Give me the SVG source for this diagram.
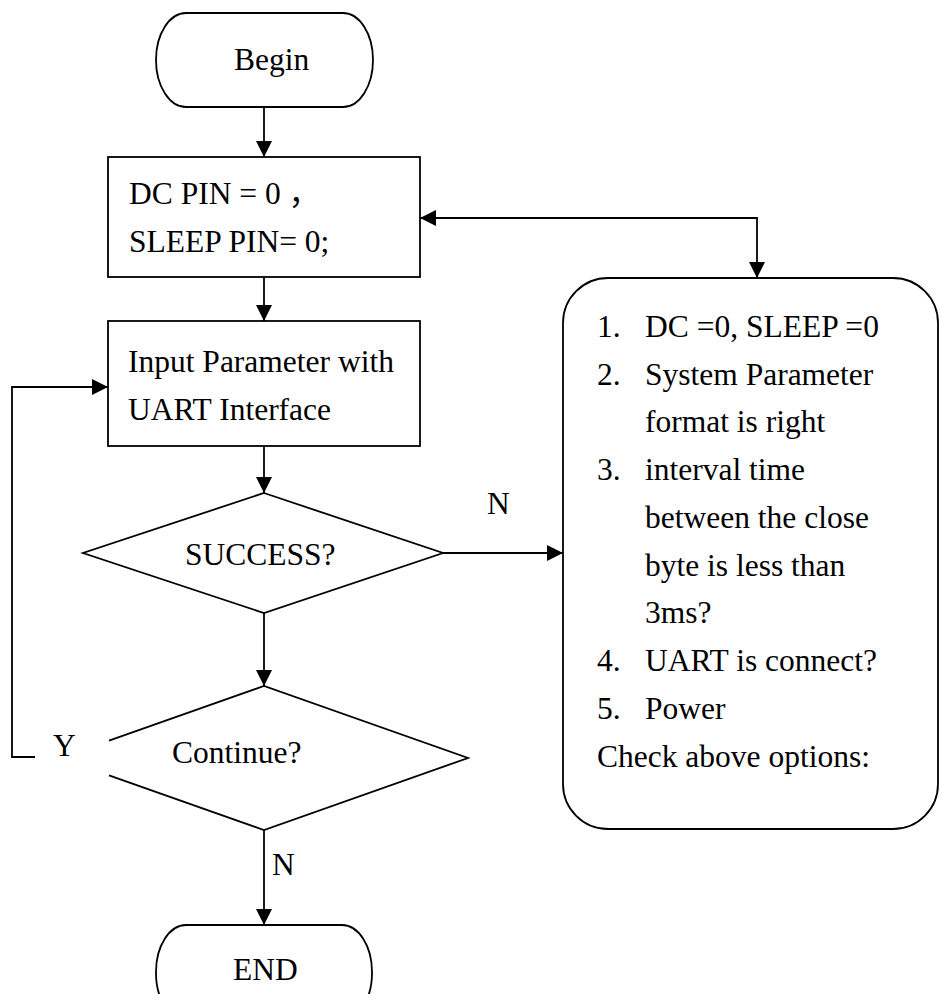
<svg xmlns="http://www.w3.org/2000/svg" width="939" height="994" viewBox="0 0 939 994">
<style>
.s{fill:#fff;stroke:#000;stroke-width:1.8}
.c{fill:none;stroke:#000;stroke-width:1.8}
text{font-family:"Liberation Serif","Times New Roman","Noto Sans CJK SC",serif;font-size:31.5px;fill:#000}
</style>
<defs>
<marker id="ah" markerUnits="userSpaceOnUse" markerWidth="16" markerHeight="16" refX="15" refY="7.5" orient="auto-start-reverse" viewBox="0 0 15 15">
<path d="M0,0 L15,7.5 L0,15 z" fill="#000"/>
</marker>
</defs>
<rect width="939" height="994" fill="#fff"/>
<g id="begin">
<rect class="s" x="156" y="13" width="217" height="94" rx="30" ry="47"/>
<text x="234" y="70">Begin</text>
</g>
<g id="init">
<rect class="s" x="108" y="157" width="312" height="120"/>
<text x="129" y="204">DC PIN = 0  <tspan font-family="'Noto Sans CJK SC',sans-serif">，</tspan></text>
<text x="129" y="252">SLEEP PIN= 0;</text>
</g>
<g id="input">
<rect class="s" x="108" y="321" width="312" height="125"/>
<text x="128" y="372">Input Parameter with</text>
<text x="128" y="420">UART Interface</text>
</g>
<g id="success">
<polygon class="s" points="264,493 443,553 264,613 83,553"/>
<text x="185" y="565">SUCCESS?</text>
</g>
<g id="continue">
<path class="c" d="M109,740.7 L264,686 L468,758 L264,830 L109,775.3"/>
<text x="172" y="763">Continue?</text>
</g>
<g id="end">
<rect class="s" x="156" y="925" width="216" height="95" rx="30" ry="47"/>
<text x="233" y="980">END</text>
</g>
<g id="check">
<rect class="s" x="563" y="278" width="375" height="551" rx="45" ry="45"/>
<text x="597" y="337">1.</text><text x="645" y="337">DC =0, SLEEP =0</text>
<text x="597" y="385">2.</text><text x="645" y="385">System Parameter</text>
<text x="645" y="432">format is right</text>
<text x="597" y="480">3.</text><text x="645" y="480">interval time</text>
<text x="645" y="528">between the close</text>
<text x="645" y="576">byte is less than</text>
<text x="645" y="623">3ms?</text>
<text x="597" y="671">4.</text><text x="645" y="671">UART is connect?</text>
<text x="597" y="719">5.</text><text x="645" y="719">Power</text>
<text x="597" y="767">Check above options:</text>
</g>
<g id="connectors">
<path class="c" d="M264,107 L264,157" marker-end="url(#ah)"/>
<path class="c" d="M264,277 L264,321" marker-end="url(#ah)"/>
<path class="c" d="M264,446 L264,493" marker-end="url(#ah)"/>
<path class="c" d="M264,613 L264,686" marker-end="url(#ah)"/>
<path class="c" d="M264,830 L264,925" marker-end="url(#ah)"/>
<path class="c" d="M443,553 L563,553" marker-end="url(#ah)"/>
<path class="c" d="M420,218 L757,218 L757,278" marker-start="url(#ah)" marker-end="url(#ah)"/>
<path class="c" d="M35,757 L12,757 L12,387 L108,387" marker-end="url(#ah)"/>
<text x="487" y="514">N</text>
<text x="53" y="756">Y</text>
<text x="272" y="875">N</text>
</g>
</svg>
